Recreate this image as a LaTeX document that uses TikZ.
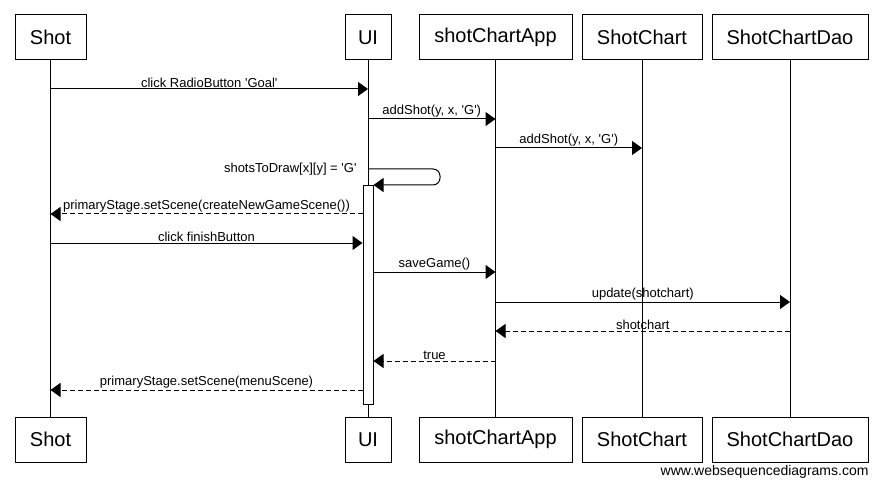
\documentclass[tikz,border=0pt]{standalone}
\usepackage{fontspec}
\setmainfont{Liberation Sans}[Ligatures=TeXOff]
\usetikzlibrary{arrows.meta}
\tikzset{
  actor/.style={draw, minimum height=45pt, inner sep=0pt, font=\fontsize{20}{22}\selectfont},
  msg/.style={-{Triangle[length=10pt,width=14pt]}},
  reply/.style={msg, dash pattern=on 5pt off 3pt},
  lbl/.style={inner sep=1pt, font=\fontsize{13}{15}\selectfont}
}
\begin{document}
\begin{tikzpicture}[x=1pt,y=-1pt,line width=1pt]
\useasboundingbox (0,0) rectangle (882,486);
\foreach \name/\txt/\x/\w in {shot/Shot/50.5/71, ui/UI/368/46, app/shotChartApp/495.5/153, chart/ShotChart/642/120, dao/ShotChartDao/790/156}
{
\node[actor, minimum width=\w pt] (t\name) at (\x,37.5) {\txt};
\node[actor, minimum width=\w pt] (b\name) at (\x,439.5) {\txt};
\draw (t\name) -- (b\name);
}
\node[draw, fill=white, minimum width=10pt, minimum height=219pt, inner sep=0pt, anchor=north] (act) at (368,185) {};
\draw[msg] (tshot |- 0,89) -- node[lbl, above] {click RadioButton 'Goal'} (tui |- 0,89);
\draw[msg] (tui |- 0,119) -- node[lbl, above] {addShot(y, x, 'G')} (tapp |- 0,119);
\draw[msg] (tapp |- 0,148) -- node[lbl, above] {addShot(y, x, 'G')} (tchart |- 0,148);
\draw[msg, rounded corners=7pt] (tui |- 0,169) -- (440,169) -- (440,185) -- (act.north east);
\node[lbl, anchor=base east] (self) at (358,173) {shotsToDraw[x][y] = 'G'};
\draw[reply] (act.west |- 0,214) -- node[lbl, above] {primaryStage.setScene(createNewGameScene())} (tshot |- 0,214);
\draw[msg] (tshot |- 0,243) -- node[lbl, above] {click finishButton} (act.west |- 0,243);
\draw[msg] (act.east |- 0,272) -- node[lbl, above] {saveGame()} (tapp |- 0,272);
\draw[msg] (tapp |- 0,302) -- node[lbl, above] {update(shotchart)} (tdao |- 0,302);
\draw[reply] (tdao |- 0,331) -- node[lbl, above] {shotchart} (tapp |- 0,331);
\draw[reply] (tapp |- 0,361) -- node[lbl, above] {true} (act.east |- 0,361);
\draw[reply] (act.west |- 0,390) -- node[lbl, above] {primaryStage.setScene(menuScene)} (tshot |- 0,390);
\node[anchor=base east, inner sep=0pt, font=\fontsize{14}{16}\selectfont] (site) at (869,475) {www.websequencediagrams.com};
\end{tikzpicture}
\end{document}
